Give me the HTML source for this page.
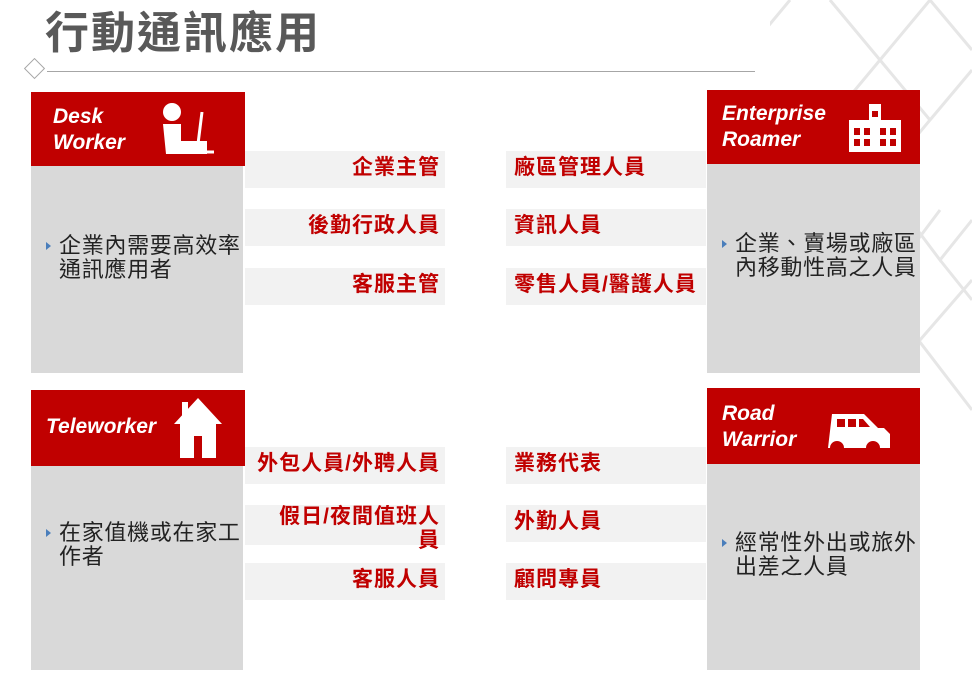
<!DOCTYPE html>
<html><head><meta charset="utf-8"><style>
body{margin:0;width:972px;height:679px;position:relative;background:#fff;overflow:hidden;font-family:"Liberation Sans","Noto Sans CJK TC",sans-serif}
.a{position:absolute}
.hd{background:#c00000;color:#fff;font-weight:bold;font-style:italic;font-size:21px;line-height:26px;box-sizing:border-box;padding:12px 0 0 22px}
.bd{background:#d9d9d9;color:#222;font-size:22px;line-height:24px;letter-spacing:0.7px;box-sizing:border-box}
.bar{background:#f2f2f2;color:#c00000;font-size:21px;font-weight:bold;line-height:24px;height:37px;width:200px;box-sizing:border-box;padding-top:5px;white-space:nowrap;letter-spacing:1px}
.l{text-align:right;padding-right:5px}
.r{padding-left:8px}
.tri{width:0;height:0;border-left:5px solid #4a7ebb;border-top:4px solid transparent;border-bottom:4px solid transparent;position:absolute;left:15px}
</style></head><body>
<svg class="a" style="left:770px;top:0" width="202" height="679">
<g stroke="#e6e6e6" stroke-width="3" fill="none">
<path d="M60 0 L110 60 L160 0 M110 60 L60 120 L110 180 L160 120 L110 60 M160 0 L202 50 M20 0 L-30 60 M160 120 L202 70 M110 180 L170 260 L202 220 M60 120 L20 170 L110 290 L170 210 M170 260 L202 300 M110 290 L202 410 M150 340 L202 280"/>
</g></svg>
<div class="a" style="left:45px;top:7px;font-size:44px;font-weight:bold;color:#595959;line-height:54px;letter-spacing:2px">行動通訊應用</div>
<div class="a" style="left:47px;top:71px;width:708px;height:1px;background:#a6a6a6"></div>
<div class="a" style="left:27px;top:61px;width:13px;height:13px;border:1.5px solid #a6a6a6;transform:rotate(45deg);background:#fff"></div>

<div class="a bd" style="left:31px;top:166px;width:212px;height:207px;padding:68px 0 0 28px"><span class="tri" style="top:76px"></span>企業內需要高效率<br>通訊應用者</div>
<div class="a hd" style="left:31px;top:92px;width:214px;height:74px">Desk<br>Worker</div>
<svg class="a" style="left:160px;top:100px" width="60" height="58"><circle cx="12" cy="12" r="9" fill="#fff"/><path d="M3 24 h18 v17 h26 v13 h-41 z" fill="#fff"/><path d="M42 12 L38 44 L44 52 h10" stroke="#fff" stroke-width="3" fill="none"/></svg>

<div class="a bd" style="left:707px;top:164px;width:213px;height:209px;padding:68px 0 0 28px"><span class="tri" style="top:76px"></span>企業、賣場或廠區<br>內移動性高之人員</div>
<div class="a hd" style="left:707px;top:90px;width:213px;height:74px;padding:11px 0 0 15px">Enterprise<br>Roamer</div>
<svg class="a" style="left:845px;top:98px" width="60" height="56"><rect x="4" y="22" width="52" height="32" fill="#fff"/><rect x="24" y="6" width="12" height="18" fill="#fff"/><g fill="#c00000"><rect x="9" y="30" width="6" height="7"/><rect x="19" y="30" width="6" height="7"/><rect x="35" y="30" width="6" height="7"/><rect x="45" y="30" width="6" height="7"/><rect x="9" y="41" width="6" height="7"/><rect x="19" y="41" width="6" height="7"/><rect x="35" y="41" width="6" height="7"/><rect x="45" y="41" width="6" height="7"/><rect x="27" y="13" width="6" height="6"/></g></svg>

<div class="a bd" style="left:31px;top:466px;width:212px;height:204px;padding:55px 0 0 28px"><span class="tri" style="top:63px"></span>在家值機或在家工<br>作者</div>
<div class="a hd" style="left:31px;top:390px;width:214px;height:76px;padding:24px 0 0 15px">Teleworker</div>
<svg class="a" style="left:172px;top:396px" width="52" height="64"><path d="M26 2 L50 28 L44 28 L44 62 L8 62 L8 28 L2 28 Z" fill="#fff"/><rect x="22" y="40" width="8" height="22" fill="#c00000"/><rect x="10" y="6" width="6" height="14" fill="#fff"/></svg>

<div class="a bd" style="left:707px;top:464px;width:213px;height:206px;padding:67px 0 0 28px"><span class="tri" style="top:75px"></span>經常性外出或旅外<br>出差之人員</div>
<div class="a hd" style="left:707px;top:388px;width:213px;height:76px;padding:13px 0 0 15px">Road<br>Warrior</div>
<svg class="a" style="left:828px;top:410px" width="64" height="40"><path d="M4 4 h32 l14 14 h6 l6 6 v14 h-10 a7 7 0 0 0 -14 0 h-22 a7 7 0 0 0 -14 0 h-2 z" fill="#fff"/><g fill="#c00000"><rect x="9" y="9" width="8" height="8"/><rect x="20" y="9" width="8" height="8"/><path d="M31 9 h4 l7 8 h-11z"/></g></svg>

<div class="a bar l" style="left:245px;top:151px">企業主管</div>
<div class="a bar l" style="left:245px;top:209px">後勤行政人員</div>
<div class="a bar l" style="left:245px;top:268px">客服主管</div>
<div class="a bar r" style="left:506px;top:151px">廠區管理人員</div>
<div class="a bar r" style="left:506px;top:209px">資訊人員</div>
<div class="a bar r" style="left:506px;top:268px">零售人員/醫護人員</div>

<div class="a bar l" style="left:245px;top:447px">外包人員/外聘人員</div>
<div class="a bar l" style="left:245px;top:505px;height:40px;padding-top:0">假日/夜間值班人<br>員</div>
<div class="a bar l" style="left:245px;top:563px">客服人員</div>
<div class="a bar r" style="left:506px;top:447px">業務代表</div>
<div class="a bar r" style="left:506px;top:505px">外勤人員</div>
<div class="a bar r" style="left:506px;top:563px">顧問專員</div>
</body></html>
